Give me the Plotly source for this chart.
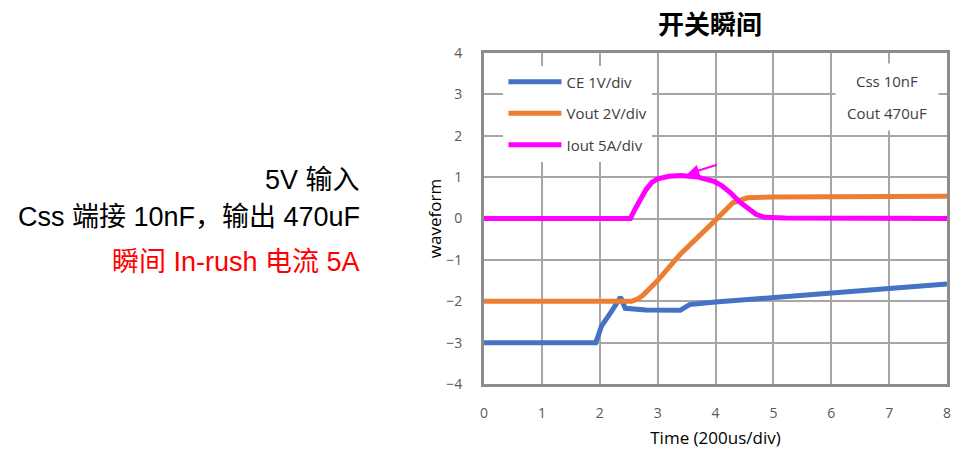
import plotly.graph_objects as go

# ---- data ----
ce_t = [0, 1.93, 1.97, 2.03, 2.2, 2.36, 2.44, 2.8, 3.39, 3.55, 4.0, 5.0, 6.0, 7.0, 8.0]
ce_v = [-3.0, -3.0, -2.85, -2.6, -2.25, -1.9, -2.17, -2.21, -2.22, -2.08, -2.02, -1.9, -1.78, -1.69, -1.58]

vout_t = [0, 2.55, 2.65, 2.75, 3.0, 3.4, 4.0, 4.3, 4.55, 5.0, 8.0]
vout_v = [-2.0, -2.0, -1.95, -1.85, -1.5, -0.85, -0.04, 0.38, 0.5, 0.52, 0.54]

iout_t = [0, 2.53, 2.6, 2.7, 2.8, 2.9, 3.0, 3.2, 3.4, 3.7, 3.97, 4.1, 4.26, 4.4, 4.55, 4.7, 4.85, 5.2, 8.0]
iout_v = [0, 0, 0.2, 0.45, 0.7, 0.87, 0.96, 1.02, 1.04, 1.0, 0.9, 0.8, 0.62, 0.42, 0.25, 0.1, 0.03, 0.01, 0.0]

names = ["CE 1V/div", "Vout 2V/div", "Iout 5A/div"]
colors = ["#4472C4", "#ED7D31", "#FF00FF"]

x_ticks = [0, 1, 2, 3, 4, 5, 6, 7, 8]
y_ticks = [-4, -3, -2, -1, 0, 1, 2, 3, 4]

title_text = "开关瞬间"
x_title = "Time (200us/div)"
y_title = "waveform"
note_lines = ["Css 10nF", "Cout 470uF"]
side_lines = ["5V 输入", "Css 端接 10nF，输出 470uF", "瞬间 In-rush 电流 5A"]
side_colors = ["#000000", "#000000", "#FF0000"]

# ---- figure ----
fig = go.Figure()
series = [(ce_t, ce_v), (vout_t, vout_v), (iout_t, iout_v)]
for i, ((t, v), n, c) in enumerate(zip(series, names, colors)):
    fig.add_trace(go.Scatter(x=t, y=v, mode="lines", name=n,
                             line=dict(color=c, width=5),
                             legendgroup=f"g{i}"))

font_ui = "Open Sans, Noto Sans, Noto Sans CJK SC, sans-serif"
grid_c = "#A6A6A6"
border_c = "#8C8C8C"

fig.update_layout(
    width=953, height=452,
    margin=dict(l=483.5, r=6.3, t=52.5, b=68.4),
    paper_bgcolor="white", plot_bgcolor="white",
    title=dict(text=f"<b>{title_text}</b>", x=710 / 953, xanchor="center",
               y=1 - 25 / 452, yanchor="middle",
               font=dict(family="Noto Sans CJK SC, sans-serif", size=26, color="#000000")),
    showlegend=True,
    legend=dict(x=0.042, y=0.962, xanchor="left", yanchor="top",
                bgcolor="white", borderwidth=0, traceorder="grouped",
                tracegroupgap=9, itemwidth=53,
                font=dict(family=font_ui, size=15, color="#404040")),
    xaxis=dict(range=[0, 8], tickvals=x_ticks, showgrid=True, gridcolor=grid_c, gridwidth=1.5,
               zeroline=False, showline=True, mirror=True, linecolor=border_c, linewidth=3,
               ticks="", ticklabelstandoff=14, automargin=False,
               tickfont=dict(family=font_ui, size=14, color="#595959"),
               title=dict(text=x_title, standoff=12,
                          font=dict(family=font_ui, size=17, color="#000000"))),
    yaxis=dict(range=[-4, 4], tickvals=y_ticks, showgrid=True, gridcolor=grid_c, gridwidth=1.5,
               zeroline=False, showline=True, mirror=True, linecolor=border_c, linewidth=3,
               ticks="", ticklabelstandoff=16, automargin=False,
               tickfont=dict(family=font_ui, size=14, color="#595959"),
               title=dict(text=y_title, standoff=1,
                          font=dict(family=font_ui, size=17, color="#000000"))),
)

# note box (upper right)
for k, line in enumerate(note_lines):
    fig.add_annotation(xref="paper", yref="paper",
                       x=(886.5 - 483.5) / 463.2, y=(383.6 - (81 + k * 32)) / 331.1,
                       xanchor="center", yanchor="middle",
                       text=line, showarrow=False, width=100, height=32,
                       bgcolor="white", borderpad=1,
                       font=dict(family=font_ui, size=15, color="#404040"))

# arrow near Iout peak
fig.add_annotation(x=3.51, y=1.07, ax=4.05, ay=1.31, xref="x", yref="y",
                   axref="x", ayref="y", text="", showarrow=True,
                   arrowhead=2, arrowsize=1.2, arrowwidth=2, arrowcolor="#FF00FF")

# side text (left)
side_y = [180, 217, 262]
for line, c, yy in zip(side_lines, side_colors, side_y):
    fig.add_annotation(xref="paper", yref="paper",
                       x=(361 - 483.5) / 463.2, y=(383.6 - yy) / 331.1,
                       xanchor="right", yanchor="middle", showarrow=False,
                       text=line,
                       font=dict(family="Liberation Sans, Arial, Noto Sans CJK SC, sans-serif",
                                 size=27, color=c))

fig.write_html("out.html", config={"displayModeBar": False},
               post_script="document.body.style.margin='0';document.body.style.overflow='hidden';")
